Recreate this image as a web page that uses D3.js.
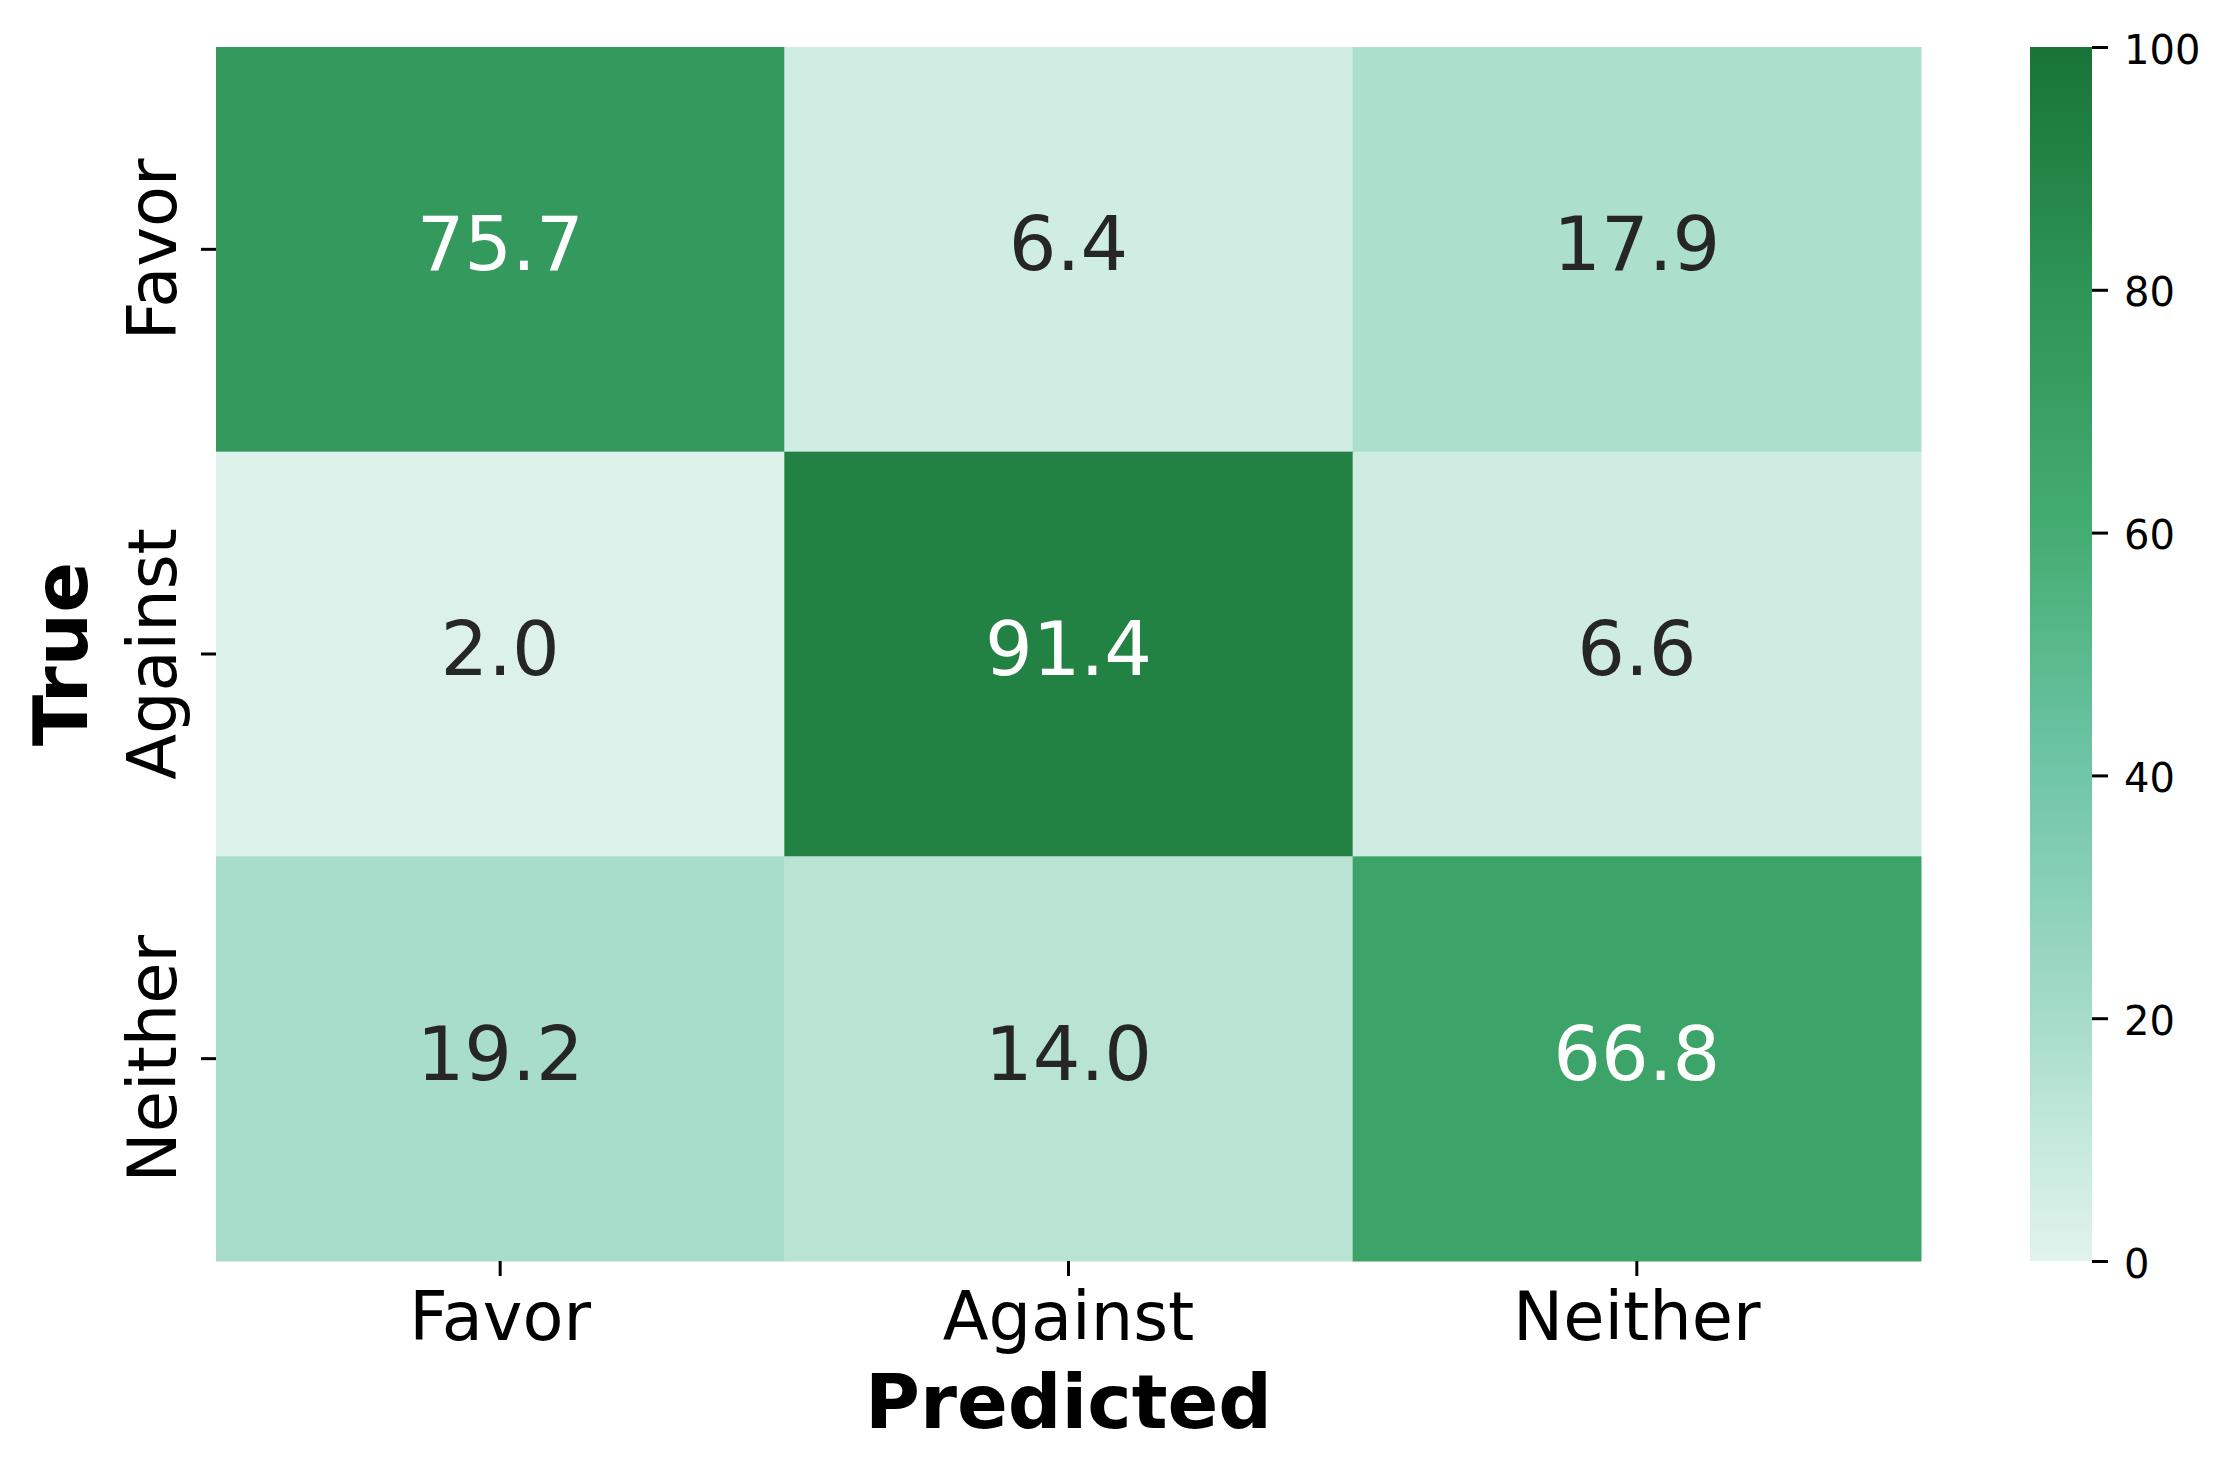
<!DOCTYPE html>
<html>
<head>
<meta charset="utf-8">
<script src="https://cdnjs.cloudflare.com/ajax/libs/d3/7.8.5/d3.min.js"></script>
<style>
    body { margin: 0; background: #fff; }
    text { font-family: "DejaVu Sans", sans-serif; }
</style>
</head>
<body>
<div id="chart"></div>
<script>
//data: rows = true label, cols = predicted label
let classes = ["Favor", "Against", "Neither"];
let rowFavor = [75.7, 6.4, 17.9];
let rowAgainst = [2.0, 91.4, 6.6];
let rowNeither = [19.2, 14.0, 66.8];
let cbarTicks = [0, 20, 40, 60, 80, 100];

let matrix = [rowFavor, rowAgainst, rowNeither];

//figure size and heatmap box
let svgWidth = 2226;
let svgHeight = 1477;
let hm = { left: 216, top: 47, right: 1921, bottom: 1261 };
let cbar = { left: 2030, right: 2092 };

let svg = d3.select("#chart")
    .append("svg")
    .attr("width", svgWidth)
    .attr("height", svgHeight);

//scales
let x = d3.scaleBand().domain(classes).range([hm.left, hm.right]);
let y = d3.scaleBand().domain(classes).range([hm.top, hm.bottom]);

//green colour map (light at 0, dark at 100)
let color = d3.scaleLinear()
    .domain([0, 10, 20, 40, 60, 80, 100])
    .range(["#e1f3ee", "#c5e9dc", "#a6dcc9", "#70c6a9", "#44ad72", "#2e9457", "#187436"])
    .interpolate(d3.interpolateLab);

//flatten cells
let cells = [];
matrix.forEach(function(row, i) {
    row.forEach(function(v, j) {
        cells.push({ t: classes[i], p: classes[j], value: v });
    });
});

//draw cells
svg.selectAll("rect.cell")
    .data(cells)
    .enter()
    .append("rect")
    .attr("class", "cell")
    .attr("x", function(d) { return x(d.p) })
    .attr("y", function(d) { return y(d.t) })
    .attr("width", x.bandwidth() + 0.5)
    .attr("height", y.bandwidth() + 0.5)
    .attr("fill", function(d) { return color(d.value) });

//annotations
svg.selectAll("text.annot")
    .data(cells)
    .enter()
    .append("text")
    .attr("class", "annot")
    .attr("x", function(d) { return x(d.p) + x.bandwidth() / 2 })
    .attr("y", function(d) { return y(d.t) + y.bandwidth() / 2 })
    .attr("dy", "0.28em")
    .attr("text-anchor", "middle")
    .style("font-size", "75px")
    .style("fill", function(d) { return d.value > 50 ? "#ffffff" : "#262626" })
    .text(function(d) { return d.value.toFixed(1) });

//x axis
let xAxis = svg.append("g")
    .attr("transform", "translate(0," + hm.bottom + ")")
    .call(d3.axisBottom(x).tickSize(15));
xAxis.select(".domain").remove();
xAxis.selectAll(".tick line").attr("stroke", "#000").attr("stroke-width", 3);
xAxis.selectAll(".tick text")
    .attr("y", 79)
    .attr("dy", 0)
    .attr("fill", "#000")
    .style("font-size", "67px")
    .style("font-family", "DejaVu Sans");

//y axis (labels rotated)
let yAxis = svg.append("g")
    .attr("transform", "translate(" + hm.left + ",0)")
    .call(d3.axisLeft(y).tickSize(15));
yAxis.select(".domain").remove();
yAxis.selectAll(".tick line").attr("stroke", "#000").attr("stroke-width", 3);
yAxis.selectAll(".tick text")
    .attr("transform", "rotate(-90)")
    .attr("x", 0)
    .attr("y", -40)
    .attr("dy", 0)
    .attr("text-anchor", "middle")
    .attr("fill", "#000")
    .style("font-size", "67px")
    .style("font-family", "DejaVu Sans");

//axis titles
svg.append("text")
    .attr("x", (hm.left + hm.right) / 2)
    .attr("y", 1428)
    .attr("text-anchor", "middle")
    .style("font-size", "75px")
    .style("font-weight", "bold")
    .text("Predicted");

svg.append("text")
    .attr("transform", "translate(87," + ((hm.top + hm.bottom) / 2) + ") rotate(-90)")
    .attr("text-anchor", "middle")
    .style("font-size", "75px")
    .style("font-weight", "bold")
    .text("True");

//colorbar
let c = d3.scaleLinear().domain([0, 100]).range([hm.bottom, hm.top]);

let grad = svg.append("defs")
    .append("linearGradient")
    .attr("id", "cbarGrad")
    .attr("x1", 0).attr("y1", 1)
    .attr("x2", 0).attr("y2", 0);
grad.selectAll("stop")
    .data(color.domain())
    .enter()
    .append("stop")
    .attr("offset", function(d) { return d + "%" })
    .attr("stop-color", function(d) { return color(d) });

svg.append("rect")
    .attr("x", cbar.left)
    .attr("y", c(100))
    .attr("width", cbar.right - cbar.left)
    .attr("height", c(0) - c(100))
    .attr("fill", "url(#cbarGrad)");

let cAxis = svg.append("g")
    .attr("transform", "translate(" + cbar.right + ",0)")
    .call(d3.axisRight(c).tickValues(cbarTicks).tickSize(16).tickPadding(16));
cAxis.select(".domain").remove();
cAxis.selectAll(".tick line").attr("stroke", "#000").attr("stroke-width", 3);
cAxis.selectAll(".tick text")
    .attr("dy", "0.4em")
    .attr("fill", "#000")
    .style("font-size", "40px")
    .style("font-family", "DejaVu Sans");
</script>
</body>
</html>
